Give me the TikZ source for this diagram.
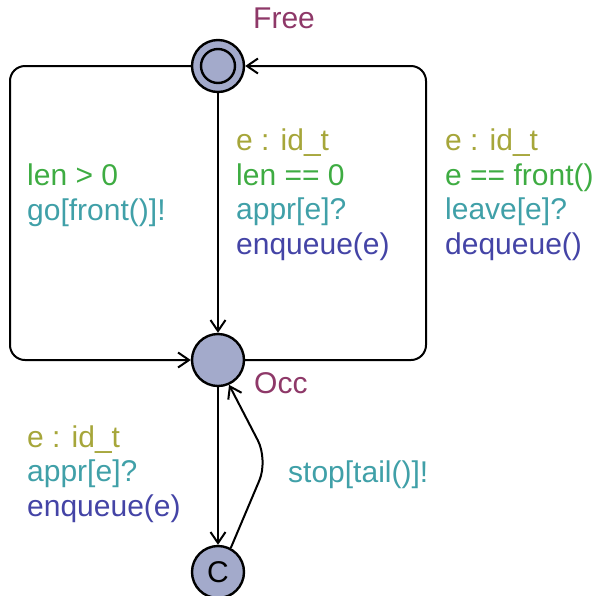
\documentclass[tikz,border=0pt]{standalone}
\usepackage{fontspec}
\setmainfont{Liberation Sans}
\usetikzlibrary{arrows.meta}
\definecolor{selcol}{RGB}{166,166,58}
\definecolor{guardcol}{RGB}{62,172,66}
\definecolor{synccol}{RGB}{64,160,168}
\definecolor{updcol}{RGB}{68,68,166}
\definecolor{namecol}{RGB}{142,56,104}
\definecolor{locfill}{RGB}{163,170,203}
\tikzset{
  loc/.style={circle, draw=black, line width=2.4pt, fill=locfill, minimum size=52pt, inner sep=0pt},
  edge/.style={line width=2pt, -{Straight Barb[length=11pt,width=15pt,line width=2pt]}},
  lbl/.style={anchor=base west, inner sep=0pt, align=left, font=\fontsize{30}{34.5}\selectfont},
  nm/.style={lbl, text=namecol}
}
\begin{document}
\begin{tikzpicture}[x=1pt,y=-1pt]
\useasboundingbox (0,0) rectangle (596,595);
\node[loc] (Free) at (218,66) {};
\draw[line width=2.4pt] (Free.center) circle (17pt);
\node[loc] (Occ) at (218,360) {};
\node[loc, font=\fontsize{30}{34.5}\selectfont] (C) at (218,572) {C};
\node[nm] (FreeName) at (253,28) {Free};
\node[nm] (OccName) at (254,393) {Occ};
\coordinate (L) at (10,200);
\coordinate (R) at (426,200);
\draw[edge, rounded corners=15pt] (Free.west) -| (L) |- (Occ.west);
\draw[edge, rounded corners=15pt] (Occ.east) -| (R) |- (Free.east);
\draw[edge] (Free) -- (Occ);
\draw[edge] (Occ) -- (C);
\coordinate (B) at (268,460);
\draw[edge, rounded corners=22pt] (C.62) -- (B) -- (Occ.-66);
\node[lbl] (lblL) at (27,220) {\textcolor{guardcol}{len > 0}\\\textcolor{synccol}{go[front()]!}};
\node[lbl] (lblM) at (236,254) {\textcolor{selcol}{e : id\_t}\\\textcolor{guardcol}{len == 0}\\\textcolor{synccol}{appr[e]?}\\\textcolor{updcol}{enqueue(e)}};
\node[lbl] (lblR) at (445,254) {\textcolor{selcol}{e : id\_t}\\\textcolor{guardcol}{e == front()}\\\textcolor{synccol}{leave[e]?}\\\textcolor{updcol}{dequeue()}};
\node[lbl] (lblB) at (27,516) {\textcolor{selcol}{e : id\_t}\\\textcolor{synccol}{appr[e]?}\\\textcolor{updcol}{enqueue(e)}};
\node[lbl] (lblS) at (288,482) {\textcolor{synccol}{stop[tail()]!}};
\end{tikzpicture}
\end{document}
